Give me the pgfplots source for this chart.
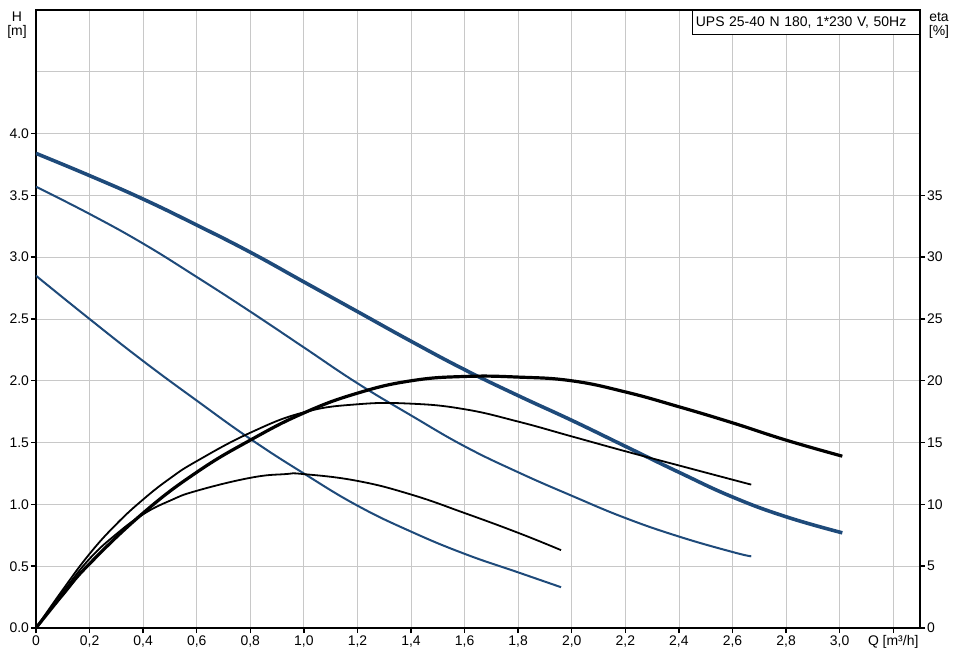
\documentclass[border=0pt]{standalone}
\usepackage{pgfplots}
\pgfplotsset{compat=1.18}
\usepackage{fontspec}
\setmainfont{Liberation Sans}
\definecolor{pumpblue}{RGB}{30,74,122}
\definecolor{gridgray}{RGB}{200,200,200}
\newcommand{\lab}{\fontsize{14}{14}\selectfont}

\begin{document}
\begin{tikzpicture}
\useasboundingbox (-36bp,-21bp) rectangle (918bp,628bp);
\begin{axis}[
  name=main,
  at={(0,0)}, anchor=south west,
  width=884bp, height=618bp, scale only axis,
  xmin=0, xmax=3.3, ymin=0, ymax=5,
  xtick={0,0.2,...,3.21},
  xticklabels={0,{0,2},{0,4},{0,6},{0,8},{1,0},{1,2},{1,4},{1,6},{1,8},{2,0},{2,2},{2,4},{2,6},{2,8},{3,0},{Q [m³/h]}},
  ytick={0,0.5,...,4.01},
  yticklabels={0.0,0.5,1.0,1.5,2.0,2.5,3.0,3.5,4.0},
  minor ytick={4.5},
  grid=both,
  major grid style={gridgray, line width=0.8bp},
  minor grid style={gridgray, line width=0.8bp},
  minor tick length=0pt,
  axis line style={black, line width=1.8bp},
  tick style={black, line width=1.4bp},
  major tick length=5bp,
  tick align=outside,
  xtick pos=left, ytick pos=left,
  ticklabel style={font=\lab},
  xticklabel style={yshift=1bp},
  yticklabel style={xshift=1.5bp},
  every axis plot/.append style={smooth, tension=0.75},
]
% head curves H [m]
\addplot[pumpblue, line width=3.6bp] coordinates {
  (0,3.84) (0.2,3.66) (0.4,3.47) (0.6,3.26) (0.8,3.04) (1.0,2.80) (1.2,2.56)
  (1.4,2.32) (1.6,2.09) (1.8,1.88) (2.0,1.68) (2.2,1.47) (2.4,1.26) (2.6,1.06)
  (2.8,0.90) (3.01,0.77)};
\addplot[pumpblue, line width=2bp] coordinates {
  (0,3.57) (0.2,3.35) (0.4,3.11) (0.6,2.84) (0.8,2.56) (1.0,2.27) (1.2,1.98)
  (1.4,1.72) (1.6,1.47) (1.8,1.26) (2.0,1.07) (2.2,0.89) (2.4,0.74) (2.6,0.615)
  (2.67,0.58)};
\addplot[pumpblue, line width=2bp] coordinates {
  (0,2.85) (0.2,2.50) (0.4,2.16) (0.6,1.84) (0.8,1.53) (1.0,1.25) (1.2,0.99)
  (1.4,0.78) (1.6,0.60) (1.8,0.45) (1.96,0.33)};
\end{axis}
\begin{axis}[
  at={(0,0)}, anchor=south west,
  width=884bp, height=618bp, scale only axis,
  xmin=0, xmax=3.3, ymin=0, ymax=50,
  axis x line=none,
  axis y line*=right,
  ytick={0,5,...,35},
  yticklabels={0,5,10,15,20,25,30,35},
  axis line style={black, line width=1.8bp, -},
  tick style={black, line width=1.4bp},
  major tick length=5bp,
  tick align=outside,
  ticklabel style={font=\lab},
  yticklabel style={xshift=-1.5bp},
  every axis plot/.append style={smooth, tension=0.75},
]
% efficiency curves eta [%]
\addplot[black, line width=3.2bp] coordinates {
  (0,0) (0.1,2.7) (0.2,5.2) (0.4,9.3) (0.6,12.6) (0.8,15.2) (1.0,17.4) (1.2,19.0)
  (1.4,20.0) (1.6,20.35) (1.8,20.3) (2.0,20.0) (2.2,19.1) (2.4,17.9)
  (2.6,16.6) (2.8,15.2) (3.01,13.9)};
\addplot[black, line width=1.8bp] coordinates {
  (0,0) (0.1,3.1) (0.2,6.0) (0.3,8.4) (0.4,10.4) (0.5,12.1) (0.6,13.5)
  (0.8,15.8) (1.0,17.45) (1.2,18.1) (1.4,18.15) (1.6,17.7) (1.8,16.7)
  (2.0,15.5) (2.2,14.3) (2.4,13.15) (2.6,12.0) (2.67,11.6)};
\addplot[black, line width=1.8bp] coordinates {
  (0,0) (0.1,2.9) (0.2,5.6) (0.3,7.6) (0.4,9.2) (0.5,10.3) (0.6,11.1)
  (0.8,12.15) (0.93,12.45) (1.0,12.45) (1.2,11.9) (1.4,10.8) (1.6,9.3)
  (1.8,7.7) (1.96,6.3)};
\end{axis}
\node[font=\lab, align=center, anchor=north, inner sep=0pt]
  at ([xshift=-19bp, yshift=-2bp]main.north west) {H\\{[m]}};
\node[font=\lab, align=center, anchor=north, inner sep=0pt]
  at ([xshift=19bp, yshift=-2bp]main.north east) {eta\\{[\%]}};
\node[draw=black, line width=1.2bp, fill=white, anchor=north east, font=\lab,
  inner xsep=3.5bp, inner ysep=0pt, minimum height=24bp, text width=220bp, align=left]
  at (main.north east) {UPS 25-40 N 180, 1*230 V, 50Hz};
\end{tikzpicture}
\end{document}
